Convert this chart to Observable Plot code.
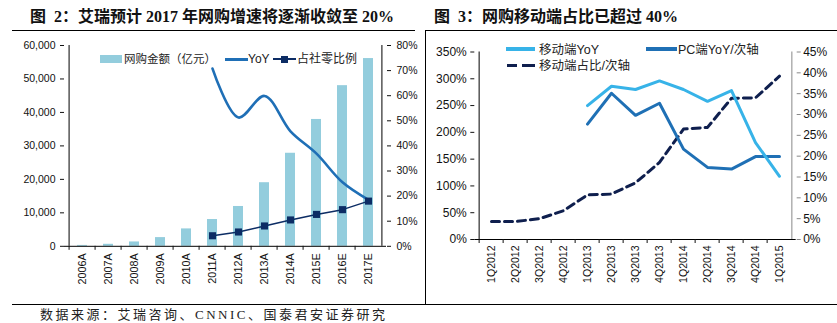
<!DOCTYPE html>
<html><head><meta charset="utf-8">
<script src="https://cdn.jsdelivr.net/npm/d3@7"></script>
<script src="https://cdn.jsdelivr.net/npm/@observablehq/plot@0.6"></script>
<style>
body{margin:0;background:#fff;}
#wrap{position:relative;width:837px;height:323px;overflow:hidden;background:#fff;}
.abs{position:absolute;}
.title{position:absolute;font-family:"Liberation Serif","Noto Sans CJK SC",serif;font-weight:bold;font-size:16px;line-height:20px;white-space:nowrap;color:#111;}
.hl{position:absolute;background:#000;height:1px;}
.vl{position:absolute;background:#000;width:1px;}
.leg{position:absolute;white-space:nowrap;font-family:"Liberation Sans","Noto Sans CJK SC",sans-serif;color:#222;line-height:14px;}
.src{position:absolute;font-family:"Liberation Serif","Noto Sans CJK SC",serif;font-size:13px;letter-spacing:2.5px;line-height:16px;white-space:nowrap;color:#222;}
</style></head>
<body><div id="wrap">
<div class="title" style="left:30px;top:7px;">图&nbsp;&nbsp;2：艾瑞预计 2017 年网购增速将逐渐收敛至 20%</div>
<div class="title" style="left:434px;top:7px;">图&nbsp;&nbsp;3：网购移动端占比已超过 40%</div>
<div class="hl" style="left:12px;top:29.5px;width:403px;"></div>
<div class="hl" style="left:425px;top:29.5px;width:412px;"></div>
<div class="vl" style="left:425px;top:29.5px;height:275px;"></div>
<div class="hl" style="left:12px;top:304px;width:825px;"></div>
<div class="src" style="left:40px;top:307px;">数据来源：艾瑞咨询、CNNIC、国泰君安证券研究</div>
<div id="left" class="abs" style="left:0;top:30px;"></div>
<div id="right" class="abs" style="left:425px;top:30px;"></div>
<!-- legends -->
<div class="abs" style="left:100px;top:55px;width:22px;height:8px;background:#93cddd;"></div>
<div class="leg" style="left:124px;top:52px;font-size:11.5px;">网购金额（亿元）</div>
<div class="abs" style="left:225px;top:57.5px;width:23px;height:3px;background:#1f6fb6;"></div>
<div class="leg" style="left:248px;top:52px;font-size:12px;">YoY</div>
<div class="abs" style="left:273px;top:58.3px;width:23px;height:1.5px;background:#0c2c64;"></div>
<div class="abs" style="left:281px;top:55.5px;width:7px;height:7px;background:#0c2c64;"></div>
<div class="leg" style="left:297px;top:52px;font-size:12px;">占社零比例</div>

<div class="abs" style="left:506px;top:47.3px;width:29px;height:4px;background:#37b3e8;"></div>
<div class="leg" style="left:539px;top:42.5px;font-size:12.5px;">移动端YoY</div>
<div class="abs" style="left:646px;top:47.3px;width:31px;height:4px;background:#1f70b5;"></div>
<div class="leg" style="left:678px;top:42.5px;font-size:12.5px;">PC端YoY/次轴</div>
<div class="abs" style="left:507px;top:64px;width:10px;height:3px;background:#0f1f4e;"></div>
<div class="abs" style="left:522px;top:64px;width:13px;height:3px;background:#0f1f4e;"></div>
<div class="leg" style="left:539px;top:58.5px;font-size:12.5px;">移动端占比/次轴</div>
</div>
<script>
// ---------- Data: Figure 2 ----------
const years = ["2006A","2007A","2008A","2009A","2010A","2011A","2012A","2013A","2014A","2015E","2016E","2017E"];
const onlineSales = [260,600,1300,2600,5200,8000,11900,19000,27800,37900,48000,56100]; // 亿元
const yoyYears = ["2011A","2012A","2013A","2014A","2015E","2016E","2017E"];
const yoyPct = [70.8,51.3,59.9,45.8,36.9,25.5,18.5];
const retailSharePct = [4.2,5.7,8.1,10.5,12.7,14.6,18.0];
const leftTicks = [0,10000,20000,30000,40000,50000,60000];
const leftPctTicks = [0,10,20,30,40,50,60,70,80];

// ---------- Data: Figure 3 ----------
const quarters = ["1Q2012","2Q2012","3Q2012","4Q2012","1Q2013","2Q2013","3Q2013","4Q2013","1Q2014","2Q2014","3Q2014","4Q2014","1Q2015"];
const mobileQuarters = ["1Q2013","2Q2013","3Q2013","4Q2013","1Q2014","2Q2014","3Q2014","4Q2014","1Q2015"];
const mobileYoY = [250,286,280,296,280,258,278,181,118];
const pcYoY = [27.7,35.1,29.8,32.7,21.7,17.3,16.9,19.9,19.9];
const mobileShare = [4.3,4.3,5.0,6.9,10.7,10.9,13.6,18.5,26.5,26.9,33.9,34.0,39.2];
const rightTicks = [0,50,100,150,200,250,300,350];
const rightPctTicks = [0,5,10,15,20,25,30,35,40,45];

// ---------- Figure 2 ----------
{
  const W = 420, H = 275, ML = 64, MR = 34, MT = 15, MB = 59.2;
  const k = 60000 / 80;
  const step = (W - ML - MR) / years.length;
  const bars = years.map((c, i) => ({c, v: onlineSales[i]}));
  const yoy = yoyYears.map((c, i) => ({c, v: yoyPct[i] * k}));
  const share = yoyYears.map((c, i) => ({c, v: retailSharePct[i] * k}));
  const chart = Plot.plot({
    width: W, height: H, marginLeft: ML, marginRight: MR, marginTop: MT, marginBottom: MB,
    style: {fontFamily: "Liberation Sans, Arial, sans-serif", fontSize: "10.5px", color: "#111", background: "transparent", overflow: "visible"},
    x: {type: "band", domain: years, paddingInner: 0.6, paddingOuter: 0.3, label: null},
    y: {domain: [0, 60000], label: null},
    marks: [
      Plot.barY(bars, {x: "c", y: "v", fill: "#93cddd"}),
      Plot.ruleY([0], {stroke: "#000"}),
      Plot.ruleX([years[0]], {dx: -step / 2, y1: 0, y2: 60000, stroke: "#000"}),
      Plot.ruleX([years[years.length - 1]], {dx: step / 2, y1: 0, y2: 60000, stroke: "#000"}),
      Plot.axisY({anchor: "left", ticks: leftTicks, tickFormat: d3.format(","), tickSize: 4, tickPadding: 5, label: null}),
      Plot.axisY({anchor: "right", ticks: leftPctTicks.map(v => v * k), tickFormat: v => Math.round(v / k) + "%", tickSize: 4, tickPadding: 6, label: null}),
      Plot.axisX({tickSize: 0, tickRotate: -90, tickPadding: 7, fontSize: 10.8, label: null}),
      Plot.axisX({tickSize: 4, tickFormat: () => "", dx: -step / 2, label: null}),
      Plot.line(yoy, {x: "c", y: "v", stroke: "#1f6fb6", strokeWidth: 2.6, curve: "catmull-rom"}),
      Plot.line(share, {x: "c", y: "v", stroke: "#0c2c64", strokeWidth: 1.5}),
      Plot.dot(share, {x: "c", y: "v", symbol: "square", r: 4, fill: "#0c2c64"})
    ]
  });
  document.getElementById("left").appendChild(chart);
}

// ---------- Figure 3 ----------
{
  const W = 412, H = 275, ML = 49.3, MR = 41.3, MT = 21.5, MB = 66;
  const k = 350 / 45;
  const step = (W - ML - MR) / quarters.length;
  const mob = mobileQuarters.map((c, i) => ({c, v: mobileYoY[i]}));
  const pc = mobileQuarters.map((c, i) => ({c, v: pcYoY[i] * k}));
  const sh = quarters.map((c, i) => ({c, v: mobileShare[i] * k}));
  const chart = Plot.plot({
    width: W, height: H, marginLeft: ML, marginRight: MR, marginTop: MT, marginBottom: MB,
    style: {fontFamily: "Liberation Sans, Arial, sans-serif", fontSize: "12px", color: "#111", background: "transparent", overflow: "visible"},
    x: {type: "band", domain: quarters, padding: 0, label: null},
    y: {domain: [0, 350], label: null},
    marks: [
      Plot.ruleY([0], {stroke: "#000"}),
      Plot.ruleX([quarters[0]], {dx: -step / 2, y1: 0, y2: 350, stroke: "#000"}),
      Plot.ruleX([quarters[quarters.length - 1]], {dx: step / 2, y1: 0, y2: 350, stroke: "#888"}),
      Plot.axisY({anchor: "left", ticks: rightTicks, tickFormat: v => v + "%", tickSize: 4, tickPadding: 4, label: null}),
      Plot.axisY({anchor: "right", ticks: rightPctTicks.map(v => v * k), tickFormat: v => Math.round(v / k) + "%", tickSize: 4, tickPadding: 3, stroke: "#888", label: null}),
      Plot.axisX({tickSize: 0, tickRotate: -90, tickPadding: 6, fontSize: 10.5, label: null}),
      Plot.axisX({tickSize: 4, tickFormat: () => "", dx: -step / 2, label: null}),
      Plot.line(sh, {x: "c", y: "v", stroke: "#0f1f4e", strokeWidth: 3, strokeDasharray: "8,5"}),
      Plot.line(pc, {x: "c", y: "v", stroke: "#1f70b5", strokeWidth: 3}),
      Plot.line(mob, {x: "c", y: "v", stroke: "#37b3e8", strokeWidth: 3})
    ]
  });
  document.getElementById("right").appendChild(chart);
}
</script>
</body></html>
